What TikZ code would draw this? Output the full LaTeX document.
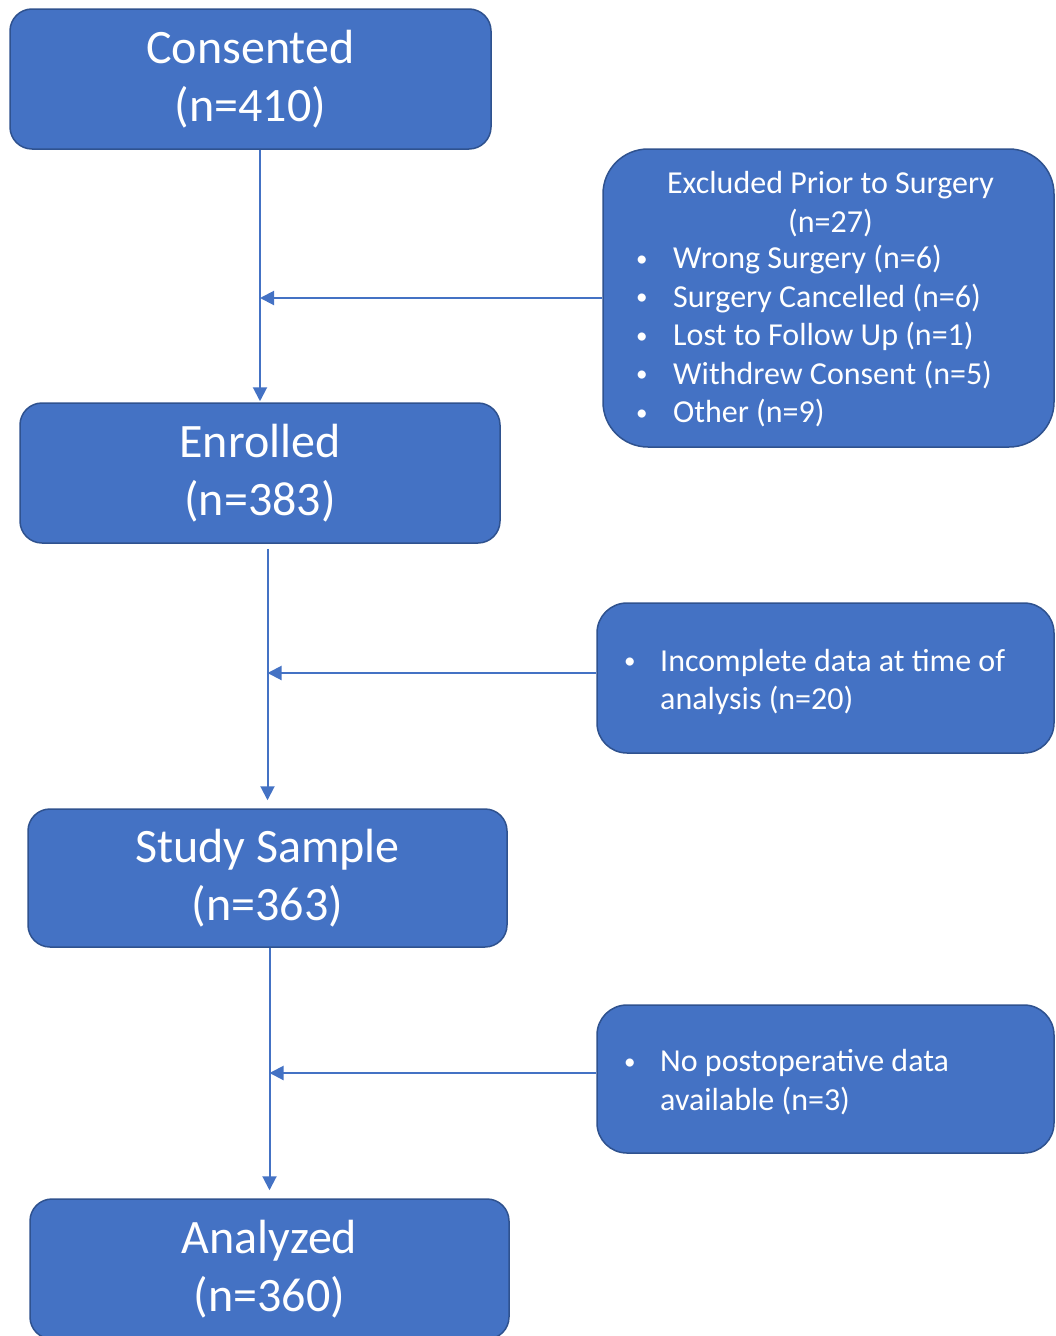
\documentclass[tikz,border=0pt]{standalone}
\usepackage{graphicx}
\usepackage{fontspec}
\setmainfont{Carlito}
\usetikzlibrary{arrows.meta,calc}
\definecolor{boxblue}{HTML}{4472C4}
\definecolor{boxedge}{HTML}{2F528F}
\newcommand{\mybul}[1]{\makebox[#1][l]{\hspace*{2pt}\raisebox{2.5pt}{\scalebox{0.72}{•}}}}
\begin{document}
\begin{tikzpicture}[x=1pt,y=-1pt,
  mainbox/.style={draw=boxedge, line width=1.5pt, fill=boxblue, rounded corners=22pt,
    text=white, align=center, font=\fontsize{48}{58}\selectfont, inner sep=0pt,
    minimum width=480pt, minimum height=140pt},
  sidebox/.style={draw=boxedge, line width=1.5pt, fill=boxblue},
  sidetext/.style={text=white, align=left, font=\fontsize{32}{38.5}\selectfont, inner sep=0pt},
  flow/.style={draw=boxblue, line width=2pt, -{Triangle[length=14pt,width=14pt]}}]
\useasboundingbox (0,0) rectangle (1055,1336);
\clip (0,0) rectangle (1055,1336);
% main boxes
\node[mainbox, minimum width=481pt] (cons) at (250.5,79) {\rule{0pt}{4pt}Consented\\(n=410)};
\node[mainbox] (enr) at (260,473) {\rule{0pt}{4pt}Enrolled\\(n=383)};
\node[mainbox, minimum width=479pt, minimum height=138pt] (study) at (267.5,878) {\rule{0pt}{4pt}Study Sample\\(n=363)};
\node[mainbox, minimum width=479pt] (an) at (269.5,1269) {\rule{0pt}{4pt}Analyzed\\(n=360)};
% side boxes
\node[sidebox, rounded corners=45pt, minimum width=451pt, minimum height=298pt] (excl) at (828.5,298) {};
\node[sidetext, align=center] (exclhead) at (830.5,204) {Excluded Prior to Surgery\\(n=27)};
\node[sidetext, anchor=west] (excllist) at (634,336.5) {%
  \mybul{39pt}Wrong Surgery (n=6)\\
  \mybul{39pt}Surgery Cancelled (n=6)\\
  \mybul{39pt}Lost to Follow Up (n=1)\\
  \mybul{39pt}Withdrew Consent (n=5)\\
  \mybul{39pt}Other (n=9)};
\node[sidebox, rounded corners=30pt, minimum width=457pt, minimum height=150pt] (inc) at (825.5,678) {};
\node[sidetext, anchor=west] (inctext) at (622,682) {%
  \mybul{38pt}Incomplete data at time of\\
  \hspace*{38pt}analysis (n=20)};
\node[sidebox, rounded corners=30pt, minimum width=457pt, minimum height=148pt] (nopost) at (825.5,1079) {};
\node[sidetext, anchor=west] (noposttext) at (622,1082) {%
  \mybul{38pt}No postoperative data\\
  \hspace*{38pt}available (n=3)};
% connectors
\draw[flow, shorten >=1pt] (cons.south -| enr.north) -- (enr.north);
\draw[flow] (excl.west) -- (excl.west -| enr.north);
\draw[flow, shorten <=5pt, shorten >=8pt] (study.north |- enr.south) -- (study.north);
\draw[flow] ($(inc.west)+(0,-5)$) -- ($(inc.west -| study.north)+(0,-5)$);
\draw[flow, shorten >=8pt] (an.north |- study.south) -- (an.north);
\draw[flow] ($(nopost.west)+(0,-6)$) -- ($(nopost.west -| an.north)+(0,-6)$);
\end{tikzpicture}
\end{document}
